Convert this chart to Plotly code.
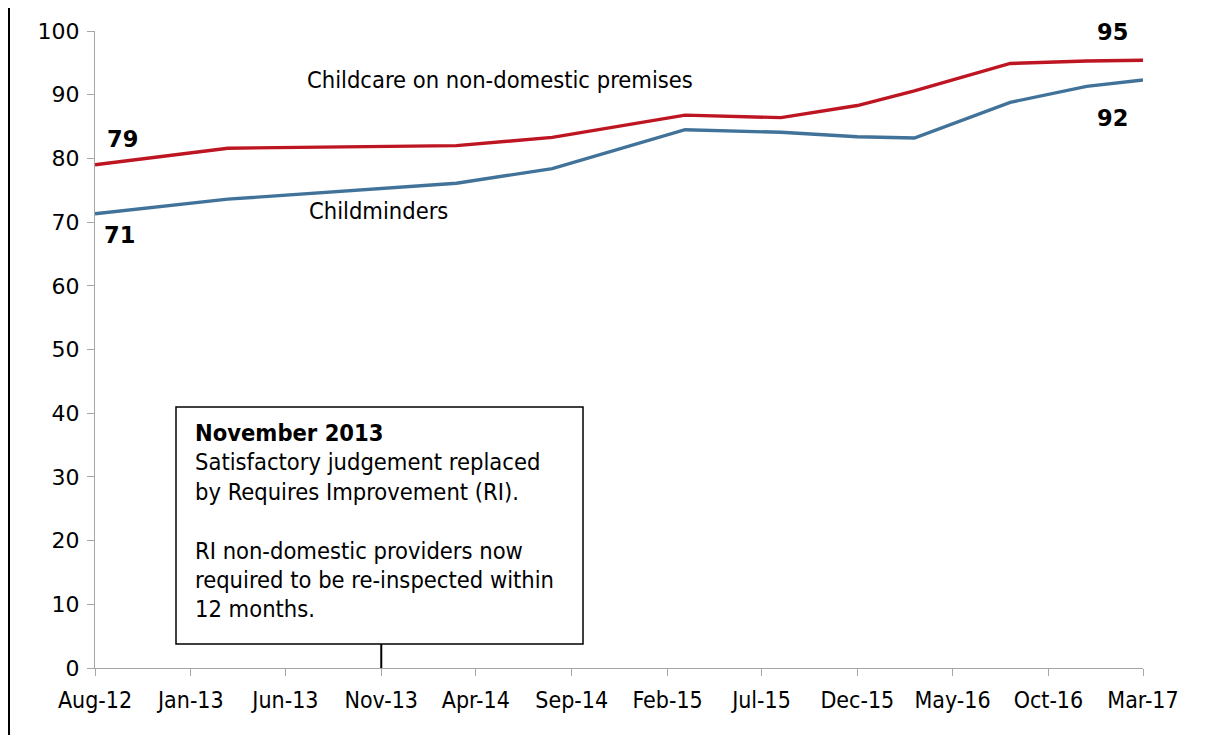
import plotly.graph_objects as go

# ---- data ----
dates = ["2012-08-01", "2013-03-01", "2014-03-01", "2014-08-01", "2015-03-01",
         "2015-08-01", "2015-12-01", "2016-03-01", "2016-08-01", "2016-12-01",
         "2017-03-01"]
non_domestic = [79.0, 81.6, 82.0, 83.3, 86.8, 86.4, 88.3, 90.6, 94.9, 95.3, 95.4]
childminders = [71.3, 73.6, 76.1, 78.4, 84.5, 84.1, 83.4, 83.2, 88.8, 91.3, 92.3]
series_names = ["Childcare on non-domestic premises", "Childminders"]
event_date = "2013-11-01"
event_title = "November 2013"
event_lines = ["Satisfactory judgement replaced", "by Requires Improvement (RI).", "",
               "RI non-domestic providers now", "required to be re-inspected within",
               "12 months."]

# page is offset by the default 8px body margin
OFF = 8
PW, PH = 1206, 735
W, H = PW - OFF, PH - OFF
L, R, T, B = 95, 1143, 31, 668  # plot area in page pixels


def px(x):
    return (x - L) / (R - L)


def py(y):
    return (B - y) / (B - T)


RED = "#BE1522"
BLUE = "#41739A"
FONT = "DejaVu Sans Condensed"
TXT = 23.5

fig = go.Figure()
fig.add_trace(go.Scatter(x=dates, y=non_domestic, mode="lines", name=series_names[0],
                         line=dict(color=RED, width=3.4), cliponaxis=False))
fig.add_trace(go.Scatter(x=dates, y=childminders, mode="lines", name=series_names[1],
                         line=dict(color=BLUE, width=3.4), cliponaxis=False))

annotations = []
# series labels
annotations.append(dict(x=px(500), y=py(80), xref="paper", yref="paper", text=series_names[0],
                        showarrow=False, xanchor="center", yanchor="middle",
                        font=dict(family=FONT, size=TXT, color="black")))
annotations.append(dict(x=px(378), y=py(211), xref="paper", yref="paper", text=series_names[1],
                        showarrow=False, xanchor="center", yanchor="middle",
                        font=dict(family=FONT, size=TXT, color="black")))
# data labels
bold = dict(family="DejaVu Sans", size=22.5, color="black")
for val, xx, yy in [(non_domestic[0], 122, 139), (childminders[0], 119, 235),
                    (non_domestic[-1], 1112, 32), (childminders[-1], 1112, 118)]:
    annotations.append(dict(x=px(xx), y=py(yy), xref="paper", yref="paper",
                            text="<b>%d</b>" % round(val), showarrow=False,
                            xanchor="center", yanchor="middle", font=bold))
# event box text
text_font = dict(family=FONT, size=TXT, color="black")
ys = [433, 462, 492, 522, 551, 580, 609]
all_lines = ["<b>" + event_title + "</b>"] + event_lines
for line, yy in zip(all_lines, ys):
    if not line:
        continue
    annotations.append(dict(x=px(193), y=py(yy), xref="paper", yref="paper", text=line,
                            showarrow=False, xanchor="left", yanchor="middle", font=text_font))

shapes = [
    # event box
    dict(type="rect", xref="paper", yref="paper", x0=px(176), x1=px(583), y0=py(644), y1=py(407),
         line=dict(color="black", width=1.5), fillcolor="white", layer="above"),
    # connector line
    dict(type="line", xref="x", yref="paper", x0=event_date, x1=event_date, y0=0, y1=py(644),
         line=dict(color="black", width=2)),
    # left border of chart frame
    dict(type="line", xref="paper", yref="paper", x0=px(9), x1=px(9), y0=py(0), y1=py(735),
         line=dict(color="black", width=2)),
]

fig.update_layout(
    width=W, height=H,
    margin=dict(l=L - OFF, r=PW - R, t=T - OFF, b=PH - B, pad=0),
    paper_bgcolor="white", plot_bgcolor="white",
    showlegend=False,
    annotations=annotations,
    shapes=shapes,
    font=dict(family=FONT, size=TXT, color="black"),
)
fig.update_xaxes(type="date", range=["2012-08-01", "2017-03-01"],
                 tick0="2012-08-01", dtick="M5", tickformat="%b-%y",
                 showgrid=False, zeroline=False, showline=True, linecolor="#A6A6A6",
                 linewidth=1.2, ticks="outside", ticklen=7, tickcolor="#A6A6A6",
                 ticklabelstandoff=4,
                 tickfont=dict(family=FONT, size=23, color="black"))
fig.update_yaxes(range=[0, 100], dtick=10, showgrid=False, zeroline=False, showline=True,
                 linecolor="#A6A6A6", linewidth=1.2, ticks="outside", ticklen=7,
                 tickcolor="#A6A6A6", ticklabelstandoff=3,
                 tickfont=dict(family="DejaVu Sans", size=22, color="black"))

fig.write_html("out.html")
